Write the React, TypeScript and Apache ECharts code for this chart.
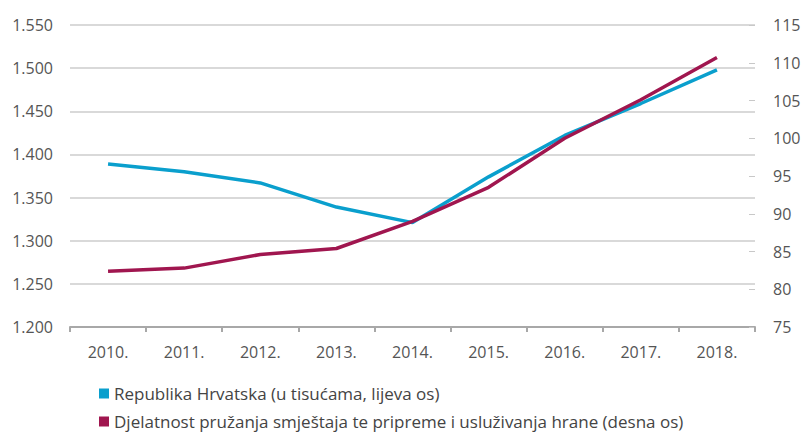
import React, { useEffect, useRef } from "react";
import * as echarts from "echarts";

const categories = ["2010.", "2011.", "2012.", "2013.", "2014.", "2015.", "2016.", "2017.", "2018."];
const hrvatska = [1389, 1380, 1367, 1339, 1321, 1374, 1422, 1459, 1498];
const djelatnost = [82.4, 82.8, 84.6, 85.4, 89.0, 93.5, 100.0, 105.1, 110.7];
const seriesNames = [
  "Republika Hrvatska (u tisućama, lijeva os)",
  "Djelatnost pružanja smještaja te pripreme i usluživanja hrane (desna os)",
];
const leftAxis = { min: 1200, max: 1550, interval: 50 };
const rightAxis = { min: 75, max: 115, interval: 5 };

const FONT = "'Open Sans', Roboto, 'DejaVu Sans', sans-serif";
const BLUE = "#0a9fcd";
const RED = "#a0164f";

export default function App() {
  const ref = useRef<HTMLDivElement>(null);
  useEffect(() => {
    if (!ref.current) return;
    const chart = echarts.init(ref.current, undefined, { renderer: "svg" });
    const legendBase = {
      orient: "horizontal",
      left: 99,
      padding: 0,
      itemWidth: 10,
      itemHeight: 10,
      itemGap: 10,
      icon: "rect",
      textStyle: { fontSize: 17, color: "#444", fontFamily: FONT, padding: [0, 0, 0, 0] },
    };
    chart.setOption({
      animation: false,
      textStyle: { fontFamily: FONT },
      grid: { left: 70, right: 51, top: 25, bottom: 106, containLabel: false },
      legend: [
        { ...legendBase, top: 385, data: [seriesNames[0]] },
        { ...legendBase, top: 413, data: [seriesNames[1]] },
      ],
      xAxis: {
        type: "category",
        data: categories,
        boundaryGap: true,
        axisLine: { lineStyle: { color: "#a8a8a8", width: 2 } },
        axisTick: { show: true, length: 5, lineStyle: { color: "#a8a8a8", width: 2 } },
        axisLabel: { color: "#555", fontSize: 16, margin: 17, fontFamily: FONT },
      },
      yAxis: [
        {
          type: "value",
          position: "left",
          min: leftAxis.min,
          max: leftAxis.max,
          interval: leftAxis.interval,
          axisLine: { show: false },
          axisTick: { show: false },
          splitLine: { lineStyle: { color: "#cccccc", width: 1.5 } },
          axisLabel: {
            color: "#555",
            fontSize: 16,
            margin: 17,
            fontFamily: FONT,
            formatter: (v: number) => {
              const s = String(v);
              return s.length > 3 ? s.slice(0, s.length - 3) + "." + s.slice(-3) : s;
            },
          },
        },
        {
          type: "value",
          position: "right",
          min: rightAxis.min,
          max: rightAxis.max,
          interval: rightAxis.interval,
          axisLine: { show: false },
          axisTick: { show: true, inside: true, length: 6, lineStyle: { color: "#c8c8c8" } },
          splitLine: { show: false },
          axisLabel: { color: "#555", fontSize: 16, margin: 18, fontFamily: FONT },
        },
      ],
      series: [
        {
          name: seriesNames[0],
          type: "line",
          yAxisIndex: 0,
          data: hrvatska,
          symbol: "none",
          color: BLUE,
          lineStyle: { color: BLUE, width: 3.5 },
        },
        {
          name: seriesNames[1],
          type: "line",
          yAxisIndex: 1,
          data: djelatnost,
          symbol: "none",
          color: RED,
          lineStyle: { color: RED, width: 3.5 },
        },
      ],
    });
    return () => chart.dispose();
  }, []);
  return <div ref={ref} style={{ width: 806, height: 433, position: "absolute", left: 0, top: 0 }} />;
}
